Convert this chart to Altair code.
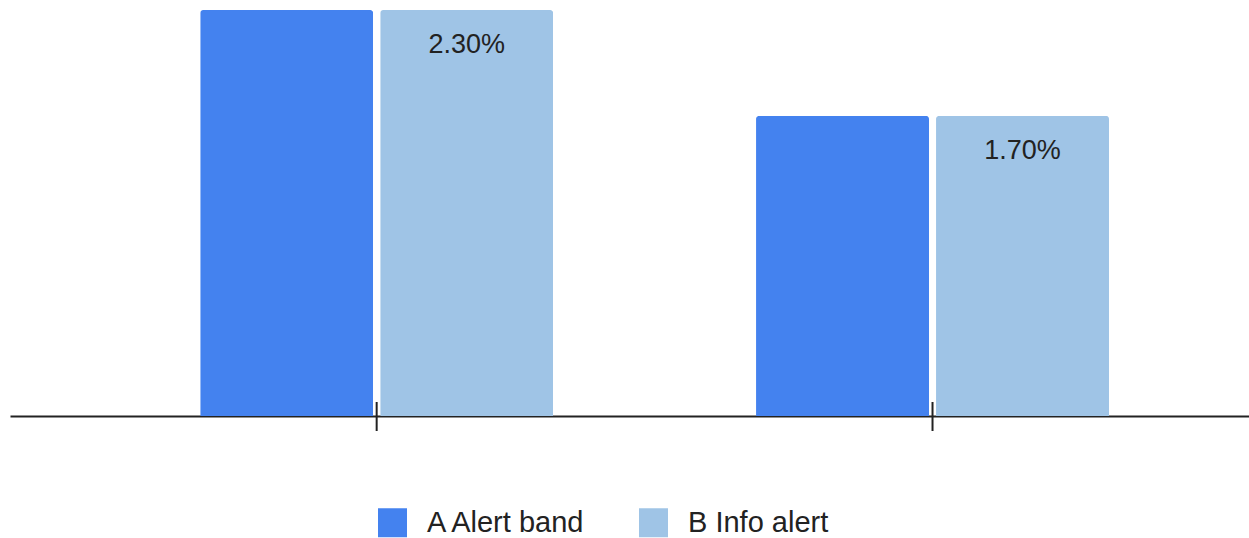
import altair as alt
import pandas as pd

categories = ["Group 1", "Group 2"]
series = ["A Alert band", "B Info alert"]
values_a = [2.3, 1.7]
values_b = [2.3, 1.7]
colors = ["#4482EF", "#9FC4E6"]

rows = []
for i, c in enumerate(categories):
    rows.append({"cat": c, "series": series[0], "value": values_a[i], "label": ""})
    rows.append({"cat": c, "series": series[1], "value": values_b[i], "label": f"{values_b[i]:.2f}%"})
df = pd.DataFrame(rows)
df_cat = pd.DataFrame({"cat": categories})

FONT = "Liberation Sans"

xscale = alt.Scale(domain=categories, paddingInner=0.365, paddingOuter=0.297, align=0.576)
xenc = alt.X("cat:N", scale=xscale,
             axis=alt.Axis(title=None, labels=False, ticks=False, domain=True,
                           domainColor="#222222", domainWidth=2, grid=False))
xoff = alt.XOffset("series:N", scale=alt.Scale(domain=series, paddingInner=0.039, paddingOuter=0))
yenc = alt.Y("value:Q", scale=alt.Scale(domain=[0, 2.3], nice=False, zero=True), axis=None)

bars = alt.Chart(df).mark_bar(cornerRadiusTopLeft=3, cornerRadiusTopRight=3).encode(
    x=xenc,
    xOffset=xoff,
    y=yenc,
    color=alt.Color("series:N", scale=alt.Scale(domain=series, range=colors),
                    legend=alt.Legend(title=None, orient="none", direction="horizontal",
                                      legendX=368, legendY=498,
                                      symbolType="square", symbolSize=841,
                                      symbolStrokeWidth=0, symbolOpacity=1,
                                      labelFont=FONT, labelFontSize=29,
                                      labelColor="#222222", labelOffset=20,
                                      columnPadding=52, padding=0)),
)

labels = alt.Chart(df).mark_text(font=FONT, fontSize=27, color="#222222",
                                 baseline="middle", align="center", dy=35).encode(
    x=xenc,
    xOffset=xoff,
    y=yenc,
    text="label:N",
)

ticks = alt.Chart(df_cat).mark_rule(color="#222222", strokeWidth=2).encode(
    x=alt.X("cat:N", scale=xscale),
    y=alt.value(392),
    y2=alt.value(421),
)

chart = alt.layer(bars, labels, ticks).properties(
    width=1239, height=406,
    background="white",
    autosize=alt.AutoSizeParams(type="none"),
    padding={"left": 10, "top": 10, "right": 0, "bottom": 122},
).configure(font=FONT).configure_view(stroke="transparent", strokeWidth=0)

chart.save("out.html", embed_options={"renderer": "svg", "actions": False})
